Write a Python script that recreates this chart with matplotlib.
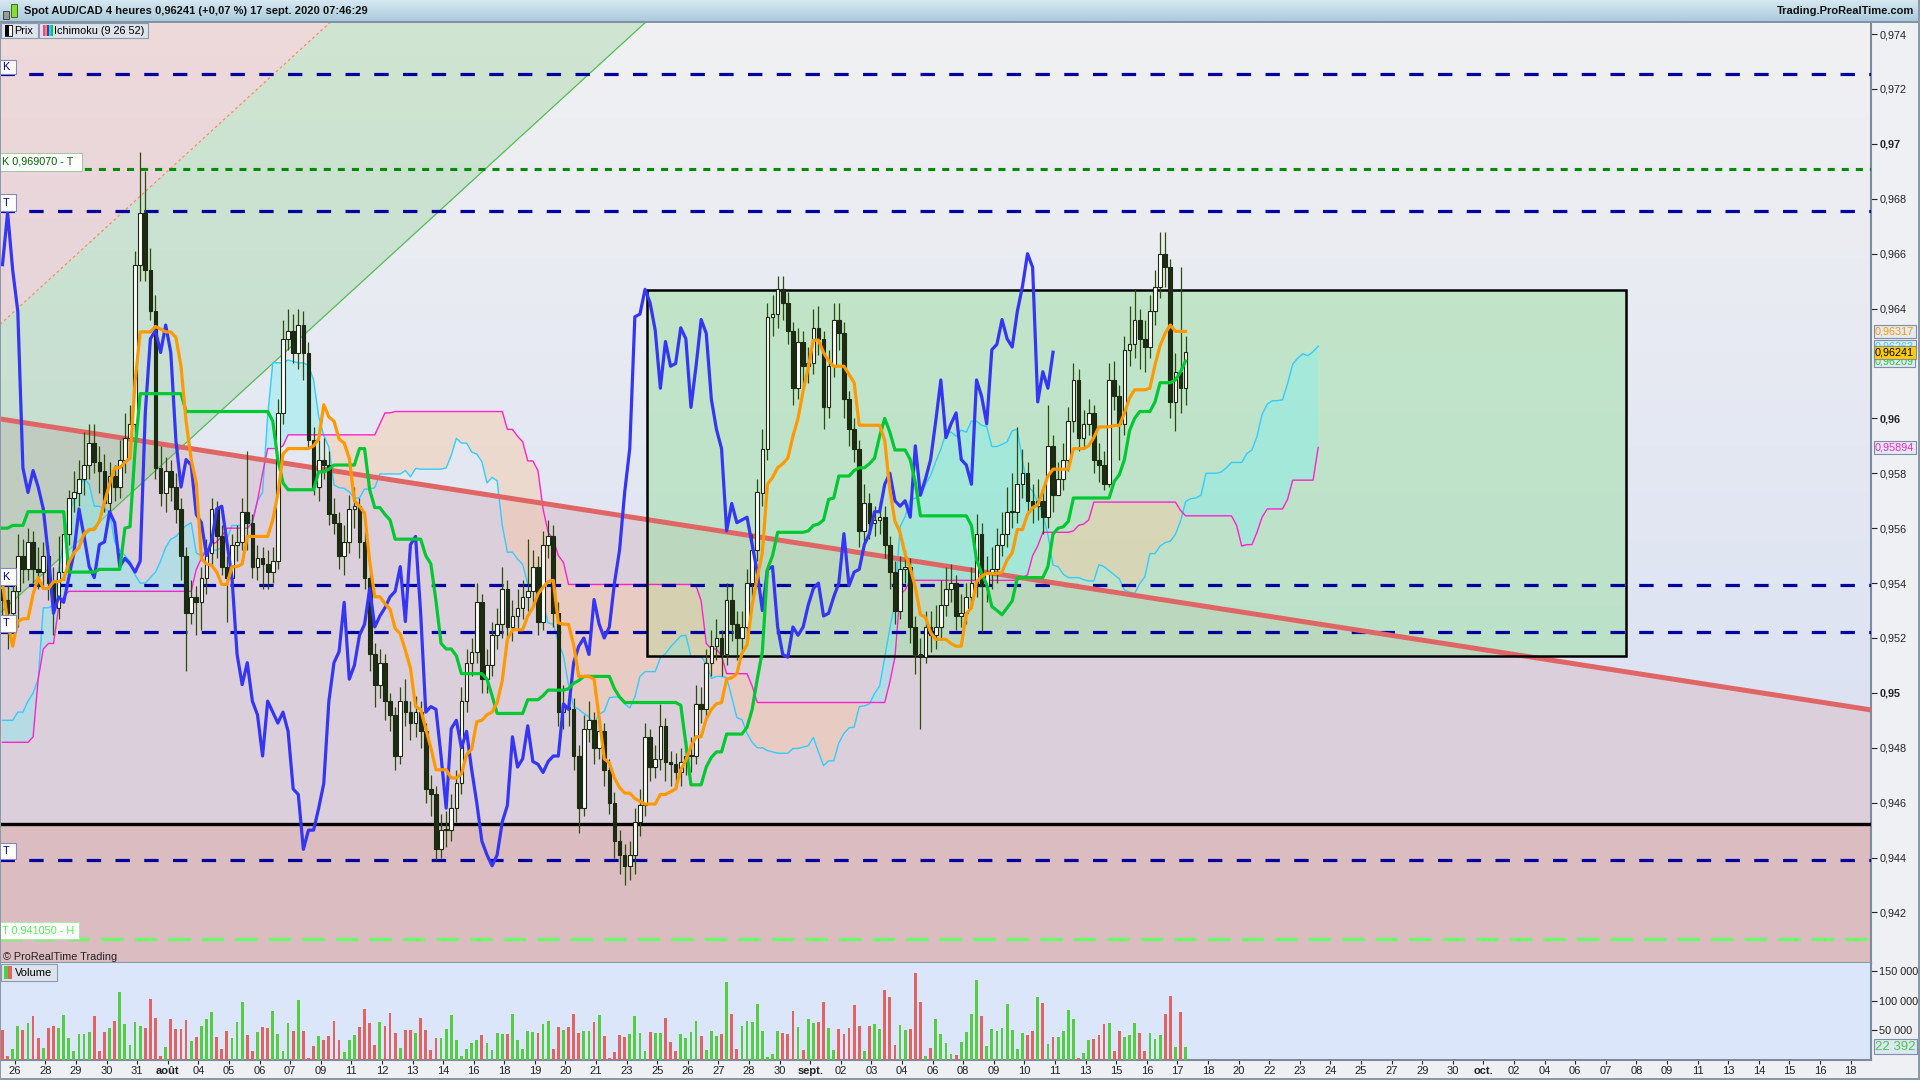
import numpy as np
import matplotlib
matplotlib.use("Agg")
import matplotlib.pyplot as plt
from matplotlib.patches import Rectangle, Polygon
import matplotlib.transforms as mtransforms

plt.rcParams['font.family'] = ['Liberation Sans', 'DejaVu Sans']

W, H = 1920, 1080
PIP = 1e-4

# ---------------- data (prices in pips = price * 10000) ----------------
first_open_p = 9538
close_p = [
9534,9529,9537,9550,9545,9555,9545,9544,9550,9540,
9531,9544,9558,9571,9573,9578,9583,9591,9584,9581,
9569,9579,9575,9585,9593,9598,9656,9675,9654,9639,
9582,9573,9581,9575,9567,9550,9529,9535,9533,9542,
9551,9567,9557,9546,9542,9554,9555,9566,9562,9546,
9549,9547,9544,9548,9602,9629,9632,9624,9634,9624,
9592,9575,9585,9583,9565,9562,9550,9555,9567,9568,
9555,9542,9514,9503,9511,9497,9492,9477,9497,9493,
9489,9493,9486,9465,9463,9443,9450,9450,9458,9467,
9497,9511,9515,9533,9505,9510,9521,9525,9538,9524,
9528,9531,9535,9537,9546,9526,9554,9557,9529,9493,
9495,9494,9477,9458,9487,9490,9480,9486,9472,9460,
9446,9441,9437,9441,9453,9459,9484,9473,9476,9488,
9475,9474,9471,9475,9477,9477,9496,9494,9511,9517,
9520,9514,9534,9525,9520,9524,9540,9552,9573,9589,
9637,9638,9647,9642,9632,9611,9628,9619,9620,9633,
9629,9604,9619,9636,9631,9607,9596,9589,9559,9569,
9562,9563,9564,9554,9544,9530,9545,9546,9524,9514,
9513,9524,9521,9524,9532,9538,9540,9528,9529,9535,
9540,9558,9539,9544,9545,9554,9558,9566,9566,9576,
9580,9570,9568,9570,9564,9590,9572,9578,9585,9599,
9614,9593,9598,9602,9585,9583,9576,9614,9608,9598,
9625,9627,9636,9629,9626,9639,9648,9660,9655,9606,
9617,9611,9624.1]
high_p = [
9545,9540,9541,9558,9556,9560,9559,9553,9555,9554,
9546,9557,9562,9574,9581,9585,9595,9598,9598,9590,
9587,9584,9583,9592,9602,9605,9661,9697,9690,9662,
9645,9590,9586,9585,9580,9571,9553,9541,9539,9546,
9556,9571,9570,9561,9550,9558,9561,9571,9588,9565,
9554,9553,9552,9553,9607,9636,9640,9638,9640,9639,
9628,9597,9592,9593,9588,9571,9566,9561,9572,9575,
9571,9559,9546,9518,9516,9514,9500,9495,9502,9505,
9497,9499,9497,9489,9470,9466,9456,9457,9463,9472,
9502,9516,9520,9540,9536,9516,9526,9531,9546,9541,
9534,9538,9541,9556,9552,9550,9559,9563,9561,9533,
9503,9500,9498,9481,9492,9497,9493,9491,9489,9476,
9464,9450,9445,9446,9458,9465,9489,9487,9481,9496,
9491,9479,9478,9480,9483,9484,9503,9502,9516,9523,
9527,9523,9540,9539,9530,9530,9545,9558,9578,9596,
9642,9645,9652,9652,9646,9635,9633,9632,9626,9640,
9641,9632,9625,9642,9642,9635,9610,9600,9592,9576,
9573,9568,9570,9568,9557,9548,9550,9552,9549,9528,
9520,9530,9530,9532,9541,9546,9547,9543,9536,9540,
9546,9565,9562,9550,9553,9560,9566,9575,9580,9597,
9589,9584,9576,9578,9575,9605,9594,9584,9591,9604,
9620,9618,9603,9607,9605,9591,9588,9620,9621,9612,
9630,9641,9647,9640,9636,9645,9654,9668,9668,9658,
9624,9655,9630]
low_p = [
9526,9516,9524,9524,9540,9541,9540,9538,9538,9534,
9521,9527,9541,9554,9566,9568,9572,9578,9580,9573,
9566,9566,9570,9571,9580,9590,9594,9650,9650,9636,
9578,9568,9566,9570,9562,9541,9508,9525,9521,9523,
9536,9546,9549,9543,9526,9538,9548,9552,9552,9542,
9541,9538,9538,9540,9545,9598,9625,9620,9618,9614,
9589,9572,9570,9578,9561,9558,9545,9543,9551,9560,
9549,9538,9508,9495,9498,9490,9486,9472,9474,9488,
9483,9484,9480,9460,9455,9439,9440,9444,9446,9453,
9463,9493,9506,9511,9500,9500,9506,9516,9520,9518,
9519,9523,9527,9530,9532,9521,9523,9549,9524,9488,
9487,9488,9472,9449,9455,9482,9474,9476,9466,9456,
9440,9434,9430,9432,9434,9448,9455,9468,9469,9472,
9468,9466,9465,9466,9470,9471,9474,9489,9490,9506,
9512,9506,9510,9519,9512,9515,9519,9535,9548,9568,
9585,9630,9633,9636,9627,9605,9607,9612,9613,9616,
9623,9596,9600,9615,9625,9600,9590,9584,9553,9555,
9556,9557,9558,9549,9538,9525,9527,9540,9518,9507,
9487,9510.8,9515,9516,9520,9528,9533,9523,9524,9525,
9531,9535,9522,9533,9538,9540,9550,9553,9560,9562,
9571,9565,9562,9563,9558,9560,9566,9573.8,9573.8,9581,
9595,9588,9589,9594,9580,9577,9573.8,9575,9603,9585,
9594,9619,9622,9618,9617,9622,9634,9644,9648,9600,
9595.4,9602,9605]
volume_k = [
51,6,19,58,51,62,75,38,20,55,57,55,76,38,15,44,44,47,75,
15,47,55,66,115,61,25,64,58,55,103,72,7,22,70,53,53,68,32,
39,58,70,81,39,19,49,37,64,98,42,15,47,56,54,83,44,16,62,
49,102,49,4,24,41,34,41,66,34,14,34,42,56,86,63,25,64,58,
80,46,20,51,51,46,72,51,17,38,38,53,76,34,6,19,29,34,42,
29,17,46,44,44,78,34,19,49,47,46,61,66,19,56,51,56,78,46,
49,49,64,76,41,4,14,42,39,44,75,46,15,47,46,46,71,31,15,44,37,
47,66,41,17,49,41,44,132,78,19,58,66,64,95,49,5,10,49,46,44,
83,56,17,69,63,64,98,54,17,53,44,54,93,58,15,58,61,52,119,107,
25,59,51,53,147,98,7,20,69,44,29,10,8,31,47,78,136,75,24,
53,49,54,95,51,19,46,42,49,107,97,27,39,39,49,85,69,3,12,34,
36,42,61,63,15,49,39,42,63,46,15,46,36,42,78,108,22,81,22.392]

# Ichimoku values visible before the indicator windows are filled
tenkan_early_p = [9540,9526,9517,9526,9527,9527,9536,9542]
kijun_early_p = [9560,9560,9561,9561,9561,9566,9566,9566,9566,9566,9566,9566,9566,
                 9544,9544,9544,9544,9544,9544,9545,9545,9545,9545,9545,9560]
spanA_early_p = [9490,9490,9490,9493,9493,9497,9500,9505,9531,9531,
                 9532,9545,9555,9565,9570,9575,9578,9576,9568,9568,
                 9567,9566,9555,9552,9550,9548,9543,9540,9540,9542,
                 9544,9548,9553,9556,9557,9559,9561,9562,9551,9550,
                 9552,9552,9552,9553,9556,9561,9561,9561,9562,9563,
                 9570]
spanB_early_p = [9482,9482,9482,9482,9482,9482,9484,9505,9516,9518,9518,9531,9535,
                 9537,9537,9537,9537,9537,9537,9537,9537,9537,9537,9537,9537,9537,
                 9537,9537,9537,9537,9537,9537,9537,9537,9537,9537,9537,9537,
                 9545,9549,9552,9554,9555,9557,9560,9560,9560,9560,9560,
                 9562,9570,9580,9589,9589,9589,9590,9594,
                 9594,9594,9594,9594,9594,9594,9594,9594,9594,9594,9594,9594,9594,9594,9594,9594,9594,
                 9598,9602,9602]

day_labels = ['26','28','29','30','31','août','04','05','06','07','09','11','12','13','14',
              '16','18','19','20','21','23','25','26','27','28','30','sept.','02','03','04',
              '06','08','09','10','11','13','15','16','17','18','20','22','23','24','25',
              '27','29','30','oct.','02','04','06','07','08','09','11','13','14','15','16','18']
month_labels = ['août', 'sept.', 'oct.']

blue_levels = [0.97255, 0.96756, 0.95393, 0.95222, 0.94393]
green_dotted_level = 0.96907
black_level = 0.94523
lightgreen_level = 0.94105
price_ticks = [0.942, 0.944, 0.946, 0.948, 0.95, 0.952, 0.954, 0.956, 0.958, 0.96,
               0.964, 0.966, 0.968, 0.97, 0.972, 0.974]
vol_ticks = [50000, 100000, 150000]

# drawn objects (trend line, channel, rectangle) anchors
trend_start, trend_end = 0.95998, 0.94938
fan_slope = 0.00017
fan_upper0, fan_lower0 = 0.96342, 0.95291
box_x0, box_x1, box_y0, box_y1 = 126.3, 318.3, 0.95135, 0.96468

# ---------------- computations ----------------
cl = np.array(close_p) * PIP
hi = np.array(high_p) * PIP
lo = np.array(low_p) * PIP
op = np.concatenate([[first_open_p * PIP], cl[:-1]])
vol = np.array(volume_k) * 1000.0
N = len(cl)
idx = np.arange(N)

tenkan = np.array([(hi[i-8:i+1].max() + lo[i-8:i+1].min()) / 2 if i >= 8 else tenkan_early_p[i] * PIP
                   for i in range(N)])
kijun = np.array([(hi[i-25:i+1].max() + lo[i-25:i+1].min()) / 2 if i >= 25 else kijun_early_p[i] * PIP
                  for i in range(N)])
M = N + 26
spanA = np.empty(M)
spanB = np.empty(M)
for j in range(M):
    if j < len(spanA_early_p):
        spanA[j] = spanA_early_p[j] * PIP
    else:
        i = j - 26
        spanA[j] = (tenkan[i] + kijun[i]) / 2
    if j < len(spanB_early_p):
        spanB[j] = spanB_early_p[j] * PIP
    else:
        i = j - 26
        spanB[j] = (hi[i-51:i+1].max() + lo[i-51:i+1].min()) / 2
jx = np.arange(M)

# ---------------- figure ----------------
fig = plt.figure(figsize=(19.2, 10.8), dpi=100, facecolor='#eef0f4')

def fx(x): return x / W
def fy(y): return 1 - y / H

xmin, xmax = -0.49, 366.4
ymin, ymax = 0.94016, 0.97444

ax = fig.add_axes([0, fy(963), fx(1871), (963 - 22) / H])
axv = fig.add_axes([0, fy(1060), fx(1871), (1060 - 963) / H])
ax.set_xlim(xmin, xmax)
ax.set_ylim(ymin, ymax)
axv.set_xlim(xmin, xmax)
axv.set_ylim(0, 164400)

# background gradient
g = np.linspace(0, 1, 256)[:, None, None]
top = np.array([241, 241, 243]) / 255
bot = np.array([212, 221, 242]) / 255
img = top + (bot - top) * g
ax.imshow(img, extent=[xmin, xmax, ymin, ymax], aspect='auto', origin='upper', zorder=0,
          interpolation='bilinear')

tx = np.array([xmin, xmax])
ty = np.array([trend_start, trend_end])
ax.fill_between(tx, [black_level, black_level], ty, color='#dccfdc', lw=0, zorder=1)
ax.fill_between(tx, [ymin, ymin], [black_level, black_level], color='#dbbcc1', lw=0, zorder=1)

# channel fills
xd = xmin + (ymax - fan_upper0) / fan_slope
xg = xmin + (ymax - fan_lower0) / fan_slope
ax.add_patch(Polygon([(xmin, fan_upper0), (xd, ymax), (xmin, ymax)], closed=True,
                     fc=(0.90, 0.58, 0.58, 0.25), ec='none', zorder=2))
ax.add_patch(Polygon([(xmin, fan_lower0), (xg, ymax), (xd, ymax), (xmin, fan_upper0)], closed=True,
                     fc=(0.47, 0.78, 0.47, 0.27), ec='none', zorder=2))
ax.plot(tx, fan_upper0 + fan_slope * (tx - xmin), color='#ff8a66', lw=0.9, ls=(0, (2.2, 2.2)), zorder=2.5)
ax.plot(tx, fan_lower0 + fan_slope * (tx - xmin), color='#55bb55', lw=0.9, zorder=2.5)

# rectangle
ax.add_patch(Rectangle((box_x0, box_y0), box_x1 - box_x0, box_y1 - box_y0,
                       fc=(0.61, 0.88, 0.63, 0.5), ec='none', zorder=3))

# cloud
ax.fill_between(jx, spanA, spanB, where=spanA >= spanB, interpolate=True,
                color=(0.50, 0.94, 0.94, 0.42), lw=0, zorder=4)
ax.fill_between(jx, spanA, spanB, where=spanA < spanB, interpolate=True,
                color=(0.98, 0.78, 0.62, 0.42), lw=0, zorder=4)
ax.plot(jx, spanA, color='#33ccff', lw=1.0, zorder=5)
ax.plot(jx, spanB, color='#ff22cc', lw=1.0, zorder=5)

# horizontal levels
for lv in blue_levels:
    ax.axhline(lv, color='#0000a0', lw=2.3, ls=(0, (4.5, 4.5)), zorder=6)
ax.axhline(green_dotted_level, color='#008a00', lw=2.2, ls=(0, (2.3, 2.3)), zorder=6)
ax.axhline(black_level, color='black', lw=2.4, zorder=6)
ax.axhline(lightgreen_level, color='#66ff66', lw=2.3, ls=(0, (7, 3.5)), zorder=6)

# trendline
ax.plot(tx, ty, color='#e06666', lw=3.6, solid_capstyle='butt', zorder=6.5)

# rectangle border
ax.add_patch(Rectangle((box_x0, box_y0), box_x1 - box_x0, box_y1 - box_y0,
                       fc='none', ec='black', lw=1.8, zorder=7))

# candles
up = cl >= op
blo = np.minimum(op, cl)
bh = np.maximum(np.abs(cl - op), 0.00003)
ax.vlines(idx, lo, hi, color='#2d4d0c', lw=0.9, zorder=8)
ax.bar(idx[up], bh[up], bottom=blo[up], width=0.72, color='white', edgecolor='#1a2a10', lw=0.8, zorder=8.5)
ax.bar(idx[~up], bh[~up], bottom=blo[~up], width=0.72, color='#1e2c14', edgecolor='#1a2a10', lw=0.8, zorder=8.5)

# ichimoku lines
ax.plot(idx[:N-26], cl[26:], color='#3535f5', lw=2.3, zorder=9)
ax.plot(idx, kijun, color='#00c832', lw=2.3, zorder=9.2)
ax.plot(idx, tenkan, color='#ff9900', lw=2.3, zorder=9.4)

# axes styling main
ax.yaxis.tick_right()
ax.set_yticks(price_ticks)
labs = []
for t in price_ticks:
    s = ('%.3f' % t).rstrip('0').replace('.', ',')
    labs.append(s)
ax.set_yticklabels(labs)
for t, lab in zip(price_ticks, ax.get_yticklabels()):
    if abs(t * 100 - round(t * 100)) < 1e-6:
        lab.set_fontweight('bold')
        lab.set_fontsize(8.5)
ax.tick_params(axis='y', direction='out', length=4, pad=2, labelsize=7.8, colors='#222222')
ax.tick_params(axis='x', bottom=False, labelbottom=False)
for sp in ['top', 'left']:
    ax.spines[sp].set_visible(False)
ax.spines['right'].set_color('#7d8c9c')
ax.spines['right'].set_linewidth(1.5)
ax.spines['bottom'].set_color('#8a98a8')
ax.spines['bottom'].set_linewidth(1.5)

# volume
axv.set_facecolor('#dbe6fb')
vcol = np.where(up, '#55cc44', '#e06464')
axv.bar(idx, vol, width=0.55, color=vcol, lw=0, zorder=3)
axv.yaxis.tick_right()
axv.set_yticks(vol_ticks)
axv.set_yticklabels(['50 000', '100 000', '150 000'])
axv.tick_params(axis='y', direction='out', length=4, pad=2, labelsize=7.8, colors='#222222')
tick_pos = 2.4 + 6 * np.arange(len(day_labels))
axv.set_xticks(tick_pos)
axv.set_xticklabels(day_labels)
for lab in axv.get_xticklabels():
    if lab.get_text() in month_labels:
        lab.set_fontweight('bold')
axv.tick_params(axis='x', direction='out', length=3, pad=1.5, labelsize=8, colors='#222222')
for sp in ['top', 'left']:
    axv.spines[sp].set_visible(False)
axv.spines['right'].set_color('#7d8c9c')
axv.spines['right'].set_linewidth(1.5)
axv.spines['bottom'].set_color('#7d8c9c')
axv.spines['bottom'].set_linewidth(1.5)

# right axis value boxes
def fmt5(v):
    return ('%.5f' % v).replace('.', ',')

trans = mtransforms.blended_transform_factory(ax.transAxes, ax.transData)
def rbox(axx, tr, y, s, fc, tc, z, fs=7.8):
    axx.text(1.0022, y, s, transform=tr, fontsize=fs, color=tc, va='center', ha='left',
             bbox=dict(boxstyle='square,pad=0.12', fc=fc, ec='#7f90a6', lw=0.8),
             clip_on=False, zorder=z)
rbox(ax, trans, spanA[-1], fmt5(spanA[-1]), '#e4e9f2', '#33ccff', 20)
rbox(ax, trans, kijun[-1], fmt5(kijun[-1]), '#e4e9f2', '#22cc44', 21)
rbox(ax, trans, tenkan[-1], fmt5(tenkan[-1]), '#e4e9f2', '#ff9900', 22)
rbox(ax, trans, cl[-1], fmt5(cl[-1]), '#ffcc00', 'black', 23)
rbox(ax, trans, spanB[-1], fmt5(spanB[-1]), '#e4e9f2', '#ff22cc', 21)
transv = mtransforms.blended_transform_factory(axv.transAxes, axv.transData)
rbox(axv, transv, vol[-1], '{:,.0f}'.format(vol[-1]).replace(',', ' '), '#dde6f5', '#44cc44', 20, fs=9.5)

# ---------------- header & labels ----------------
axh = fig.add_axes([0, fy(22), 1, 22 / H])
gh = np.linspace(0, 1, 64)[:, None, None]
htop = np.array([214, 232, 241]) / 255
hbot = np.array([168, 201, 219]) / 255
axh.imshow(htop + (hbot - htop) * gh, extent=[0, 1, 0, 1], aspect='auto', origin='upper')
axh.set_xlim(0, 1); axh.set_ylim(0, 1)
axh.axis('off')

def frect(x0, y0, x1, y1, fc, ec='none', lw=0.8, z=30):
    fig.add_artist(Rectangle((x0 / W, 1 - y1 / H), (x1 - x0) / W, (y1 - y0) / H,
                             transform=fig.transFigure, fc=fc, ec=ec, lw=lw, zorder=z))

def ftext(x, y, s, **kw):
    kw.setdefault('fontsize', 8)
    kw.setdefault('va', 'center')
    kw.setdefault('zorder', 32)
    fig.text(x / W, 1 - y / H, s, **kw)

frect(0, 21, 1920, 22.5, '#7f93a5', z=31)
# header icon
frect(3, 11, 9, 19, '#9a9a9a', ec='#333333', lw=0.6)
frect(11, 4, 17, 17, '#88dd33', ec='#335511', lw=0.6)
ftext(24, 11, 'Spot AUD/CAD 4 heures 0,96241 (+0,07 %) 17 sept. 2020 07:46:29',
      fontsize=8, weight='bold', color='#111111')
ftext(1914, 11, 'Trading.ProRealTime.com', fontsize=8, weight='bold', color='#111111', ha='right')

# legend boxes
frect(1, 23, 38, 38, '#dce3ec', ec='#8c9aab')
frect(5, 25, 12, 36, 'white', ec='black', lw=0.6, z=33)
frect(5, 25, 9, 36, 'black', z=33)
ftext(14, 30.5, 'Prix', fontsize=7.8)
frect(39, 23, 148, 38, '#dce3ec', ec='#8c9aab')
for k, c in enumerate(['#ff33cc', '#ff9900', '#3333ff', '#33ccff', '#00cc33']):
    frect(43 + 2 * k, 25, 45 + 2 * k, 36, c, z=33)
ftext(54, 30.5, 'Ichimoku (9 26 52)', fontsize=7.8)

# left level labels
def lbox(x0, y0, x1, y1, s, tc, ec='#8888bb'):
    frect(x0, y0, x1, y1, 'white', ec=ec, lw=0.8)
    ftext(x0 + 2.5, (y0 + y1) / 2, s, color=tc, fontsize=7.8)

lbox(0, 60, 16, 74, 'K', '#000080')
lbox(0, 153, 82, 171, 'K 0,969070 - T', '#006400', ec='#a6c8a6')
lbox(0, 194, 16, 211, 'T', '#000080')
lbox(0, 568, 16, 585, 'K', '#000080')
lbox(0, 615, 16, 632, 'T', '#000080')
lbox(0, 843, 16, 859, 'T', '#000080')
lbox(0, 922, 79, 939, 'T 0,941050 - H', '#55ee55', ec='#aee8ae')
ftext(3, 957, '\u00a9 ProRealTime Trading', fontsize=7.8, color='#222222')

# volume legend
frect(1, 964, 57, 981, '#dce3ec', ec='#8c9aab')
frect(4, 966, 8, 979, '#55cc44', z=33)
frect(8, 966, 12, 979, '#e06464', z=33)
ftext(15, 972.5, 'Volume', fontsize=8)

# frame lines
frect(0, 22, 1.2, 1080, '#8a98a8', z=31)
frect(1917.5, 0, 1920, 1080, '#8a98a8', z=31)
frect(0, 1077.5, 1920, 1080, '#8a98a8', z=31)

fig.savefig('out.png', dpi=100, facecolor=fig.get_facecolor())
